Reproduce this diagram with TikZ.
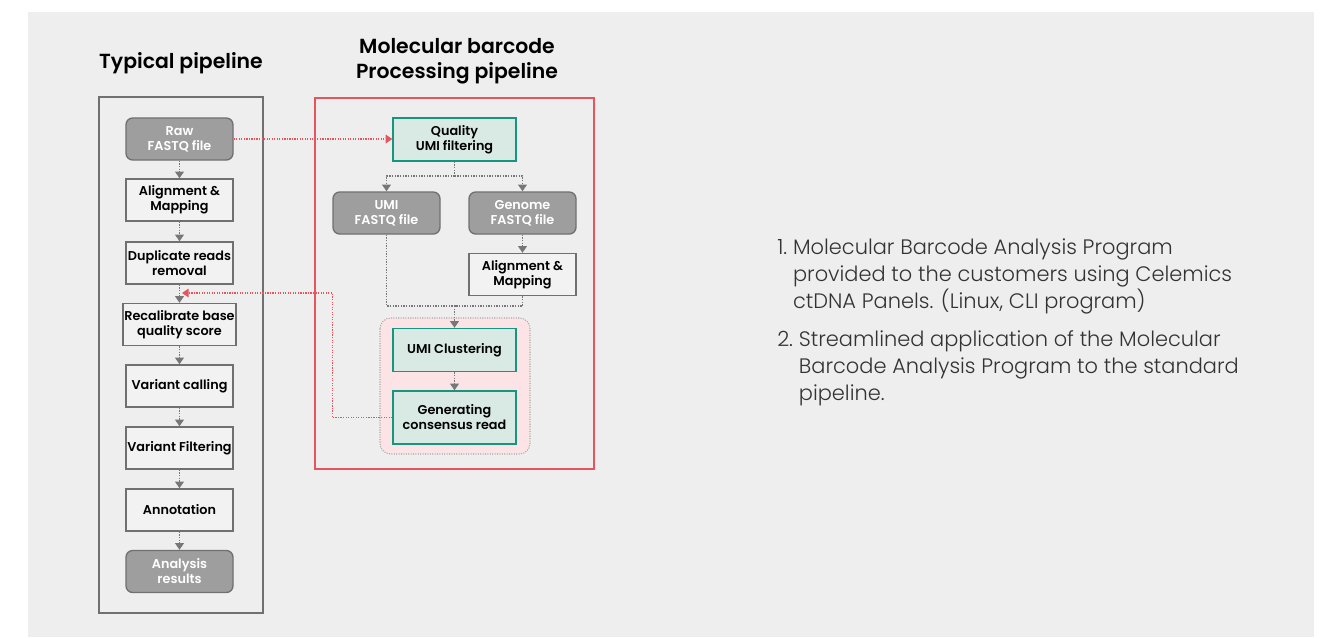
\documentclass[tikz,border=0pt]{standalone}
\usepackage{fontspec}
\setmainfont{Poppins}[BoldFont={Poppins SemiBold}]
\newfontfamily\lightfont{Poppins Light}
\usetikzlibrary{arrows.meta}

\definecolor{bggray}{HTML}{EEEEEE}
\definecolor{edgegray}{HTML}{707070}
\definecolor{boxfill}{HTML}{F2F2F2}
\definecolor{filegray}{HTML}{9E9E9E}
\definecolor{arrowgray}{HTML}{777777}
\definecolor{tealedge}{HTML}{16967E}
\definecolor{tealfill}{HTML}{D8EAE3}
\definecolor{linkred}{HTML}{E8545E}
\definecolor{pinkfill}{HTML}{FBE3E6}
\definecolor{notegray}{HTML}{333333}

\begin{document}
\begin{tikzpicture}[x=0.75pt,y=-0.75pt,
    stepbox/.style={draw=edgegray,line width=1pt,fill=boxfill,minimum width=80.25pt,minimum height=31.5pt,inner sep=1pt,align=center,text=black,font=\fontsize{9.6}{11.25}\selectfont\bfseries},
    filebox/.style={stepbox,fill=filegray,rounded corners=5pt,text=white},
    umibox/.style={stepbox,draw=tealedge,fill=tealfill,minimum width=92.25pt,minimum height=32.25pt},
    title/.style={align=center,font=\fontsize{15.3}{18.75}\selectfont\bfseries},
    note/.style={anchor=north west,inner sep=0pt,text=notegray,font=\lightfont\fontsize{15.7}{20.25}\selectfont},
    flowline/.style={densely dotted,draw=arrowgray,line width=1pt},
    flow/.style={flowline,-{Triangle[width=6.5pt,length=5pt]}},
    link/.style={densely dotted,draw=linkred,line width=0.9pt,-{Triangle[width=6.5pt,length=5pt]}}
]
\useasboundingbox (0,0) rectangle (1329,637);
\fill[white] (0,0) rectangle (1329,637);
\fill[bggray] (28,12) rectangle (1314,637);

% frames
\draw[edgegray,line width=1pt] (99,97) rectangle (263,613);
\draw[linkred,line width=1.2pt] (315,98) rectangle (594,469);
\draw[densely dotted,draw=edgegray!60,fill=pinkfill,line width=0.8pt,rounded corners=8pt] (380,318) rectangle (530,454);

% titles
\node[title] (typtitle) at (181,63) {Typical pipeline};
\node[title] (mbtitle)  at (457,61) {Molecular barcode\\Processing pipeline};

% typical pipeline
\node[filebox] (raw)    at (179.5,139)   {Raw\\FASTQ file};
\node[stepbox] (align)  at (179.5,200)   {Alignment \&\\Mapping};
\node[stepbox] (dup)    at (179.5,263)   {Duplicate reads\\removal};
\node[stepbox] (recal)  at (179.5,324.5) {Recalibrate base\\quality score};
\node[stepbox] (call)   at (179.5,386)   {Variant calling};
\node[stepbox] (filt)   at (179.5,448)   {Variant Filtering};
\node[stepbox] (annot)  at (179.5,510)   {Annotation};
\node[filebox] (result) at (179.5,571.5) {Analysis\\results};

\draw[flow] (raw) -- (align);
\draw[flow] (align) -- (dup);
\draw[flow] (dup) -- (recal);
\draw[flow] (recal) -- (call);
\draw[flow] (call) -- (filt);
\draw[flow] (filt) -- (annot);
\draw[flow] (annot) -- (result);

% molecular barcode pipeline
\node[umibox]  (qual)   at (454.5,139.5) {Quality\\UMI filtering};
\node[filebox] (umifq)  at (386.5,213)   {UMI\\FASTQ file};
\node[filebox] (genfq)  at (522.5,213)   {Genome\\FASTQ file};
\node[stepbox] (align2) at (522.5,274.5) {Alignment \&\\Mapping};
\node[umibox]  (clust)  at (454.5,350)   {UMI Clustering};
\node[umibox,minimum height=39.75pt] (cons) at (454.5,417.5) {Generating\\consensus read};

\coordinate (fork) at (454.5,176);
\coordinate (join) at (454.5,306);
\draw[flowline] (qual) -- (fork);
\draw[flow] (fork) -| (umifq);
\draw[flow] (fork) -| (genfq);
\draw[flow] (genfq) -- (align2);
\draw[flowline] (umifq) |- (join);
\draw[flowline] (align2) |- (join);
\draw[flow] (join) -- (clust);
\draw[flow] (clust) -- (cons);

% links between pipelines
\coordinate (back) at (182,293);
\draw[link] (raw) -- (raw -| qual.west);
\draw[link] (cons.west) -- ++(-60,0) |- (back);

% notes
\node[note] (note1) at (777,235) {%
  \begin{tabular}{@{}l@{\hspace{0.28em}}l@{}}
  1.&Molecular Barcode Analysis Program\\
    &provided to the customers using Celemics\\
    &ctDNA Panels. (Linux, CLI program)
  \end{tabular}};
\node[note] (note2) at (777,327) {%
  \begin{tabular}{@{}l@{\hspace{0.28em}}l@{}}
  2.&Streamlined application of the Molecular\\
    &Barcode Analysis Program to the standard\\
    &pipeline.
  \end{tabular}};
\end{tikzpicture}
\end{document}
